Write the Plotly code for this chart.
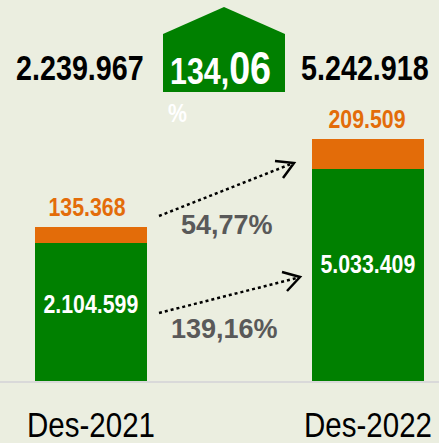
import plotly.graph_objects as go

# ── data ─────────────────────────────────────────────────────────────────────
periods = ["Des-2021", "Des-2022"]
green_values = [2104599, 5033409]
orange_values = [135368, 209509]
totals = [2239967, 5242918]

# bar lengths as drawn in the infographic (it is not drawn to scale)
green_len = [138, 212]
orange_len = [16, 30]

GREEN = "#008000"
ORANGE = "#E36C09"
BG = "#EBEEE0"
# no Arial Narrow offline: Liberation Sans squeezed to 82 % in post_script below
NARROW = "Liberation Sans Narrow, Liberation Sans, Arial, sans-serif"
WIDE = "Liberation Sans, Arial, sans-serif"

W, H, B = 439, 443, 62
PH = H - B


def px(x):
    return x / W


def py(y):
    return (PH - y) / PH


def dots(v):
    return f"{v:,}".replace(",", ".")


def pct(new, old):
    return f"{(new / old - 1) * 100:.2f}".replace(".", ",")


def label(text, x, y, size, color, family=NARROW):
    # paper-positioned text, centred (no "auto" anchoring)
    return dict(x=px(x), y=py(y), xref="paper", yref="paper", text=text,
                xanchor="center", yanchor="middle", showarrow=False,
                font=dict(family=family, size=size, color=color))


fig = go.Figure()
fig.add_trace(go.Bar(x=periods, y=green_len, marker_color=GREEN, width=0.404,
                     marker_line_width=0, hoverinfo="skip"))
fig.add_trace(go.Bar(x=periods, y=orange_len, marker_color=ORANGE, width=0.404,
                     marker_line_width=0, hoverinfo="skip"))

ann = []
for i, p in enumerate(periods):
    # white value inside green
    ann.append(dict(x=p, y=green_len[i] / 2, yshift=[8, 11][i], xref="x", yref="y",
                    text=f"<b>{dots(green_values[i])}</b>", showarrow=False,
                    font=dict(family=NARROW, size=26, color="white")))
    # orange value above bar
    ann.append(dict(x=p, y=green_len[i] + orange_len[i], xref="x", yref="y",
                    yanchor="bottom", yshift=3, xshift=[-4, -1][i],
                    text=f"<b>{dots(orange_values[i])}</b>", showarrow=False,
                    font=dict(family=NARROW, size=26, color=ORANGE)))
    # totals on top
    ann.append(dict(x=p, xref="x", y=py(67), yref="paper", yanchor="middle",
                    xshift=[-11, -3][i],
                    text=f"<b>{dots(totals[i])}</b>", showarrow=False,
                    font=dict(family=NARROW, size=35, color="black")))

g_tot = pct(totals[1], totals[0])
whole, frac = g_tot.split(",")
ann.append(label(f"<b>{whole},<span style='font-size:46px'>{frac}</span></b>",
                 220, 68, 37, "white"))
ann.append(label("<b>%</b>", 177, 113, 26, "white"))
ann.append(label(f"<b>{pct(orange_values[1], orange_values[0])}%</b>",
                 227, 225, 27, "#595959", WIDE))
ann.append(label(f"<b>{pct(green_values[1], green_values[0])}%</b>",
                 224, 329, 27, "#595959", WIDE))

pent = [(163, 92), (163, 34), (224, 7), (285, 34), (285, 92)]
path = "M " + " L ".join(f"{px(a)},{py(b)}" for a, b in pent) + " Z"
shapes = [dict(type="path", path=path, xref="paper", yref="paper",
               fillcolor=GREEN, line_width=0, layer="below")]

for (x0, y0), (x1, y1), arm1, arm2 in [
    ((159, 216), (294, 163), (275, 161), (283, 178)),
    ((159, 313), (300, 277), (282, 272), (287, 291)),
]:
    shapes.append(dict(type="line", xref="paper", yref="paper",
                       x0=px(x0), y0=py(y0), x1=px(x1 - 3), y1=py(y1 + 1),
                       line=dict(color="black", width=2.5, dash="dot")))
    shapes.append(dict(type="path", xref="paper", yref="paper",
                       path=f"M {px(arm1[0])},{py(arm1[1])} L {px(x1)},{py(y1)} "
                            f"L {px(arm2[0])},{py(arm2[1])}",
                       line=dict(color="black", width=2.5)))

fig.update_layout(
    barmode="stack",
    width=W, height=H,
    paper_bgcolor=BG, plot_bgcolor=BG,
    margin=dict(l=0, r=0, t=0, b=B),
    showlegend=False,
    annotations=ann,
    shapes=shapes,
    bargap=0,
)
fig.update_xaxes(range=[-91 / 277, (W - 91) / 277], showline=True,
                 linecolor="#D9D9D9", linewidth=2, ticks="", showgrid=False,
                 ticklabelstandoff=11, automargin=False,
                 tickfont=dict(family=NARROW, size=36, color="black"))
fig.update_yaxes(range=[0, PH], visible=False, automargin=False)

# drop the page margin and squeeze the "narrow" texts horizontally
post = """
document.body.style.margin = '0';
document.querySelectorAll('text').forEach(function (t) {
  if ((t.getAttribute('style') || '').indexOf('Narrow') < 0) return;
  var b = t.getBBox(), cx = b.x + b.width / 2;
  var tr = t.getAttribute('transform') || '';
  t.setAttribute('transform', tr + ' translate(' + cx + ',0) scale(0.82,1) translate(' + (-cx) + ',0)');
});
"""
fig.write_html("out.html", post_script=post, config={"displayModeBar": False})
